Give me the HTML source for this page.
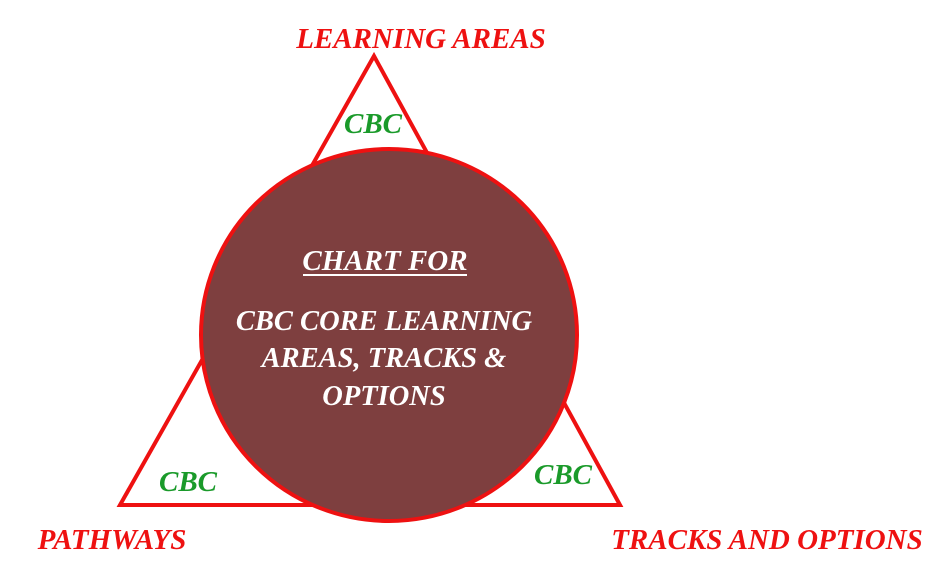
<!DOCTYPE html>
<html><head><meta charset="utf-8"><style>
html,body{margin:0;padding:0;background:#fff;}
svg{display:block;}
text{font-family:"Liberation Serif",serif;font-weight:bold;font-style:italic;}
</style></head><body>
<svg width="930" height="574" viewBox="0 0 930 574">
<polygon points="374,56 120,505 620,505" fill="#fff" stroke="#ee1111" stroke-width="4" stroke-linejoin="miter"/>
<ellipse cx="389" cy="335" rx="188" ry="186" fill="#7e3f3f" stroke="#ee1111" stroke-width="4"/>
<text x="421" y="48" text-anchor="middle" font-size="29" fill="#ee1111">LEARNING AREAS</text>
<text x="112" y="549" text-anchor="middle" font-size="29" fill="#ee1111">PATHWAYS</text>
<text x="767" y="549" text-anchor="middle" font-size="29" fill="#ee1111">TRACKS AND OPTIONS</text>
<text x="373" y="133" text-anchor="middle" font-size="29" fill="#1a9a2a">CBC</text>
<text x="188" y="491" text-anchor="middle" font-size="29" fill="#1a9a2a">CBC</text>
<text x="563" y="484" text-anchor="middle" font-size="29" fill="#1a9a2a">CBC</text>
<text x="385" y="270" text-anchor="middle" font-size="29" fill="#fff">CHART FOR</text>
<line x1="303" y1="275" x2="467" y2="275" stroke="#fff" stroke-width="2"/>
<text x="384" y="330" text-anchor="middle" font-size="28.5" fill="#fff">CBC CORE LEARNING</text>
<text x="384" y="367" text-anchor="middle" font-size="28.5" fill="#fff">AREAS, TRACKS &amp;</text>
<text x="384" y="405" text-anchor="middle" font-size="28.5" fill="#fff">OPTIONS</text>
</svg>
</body></html>
